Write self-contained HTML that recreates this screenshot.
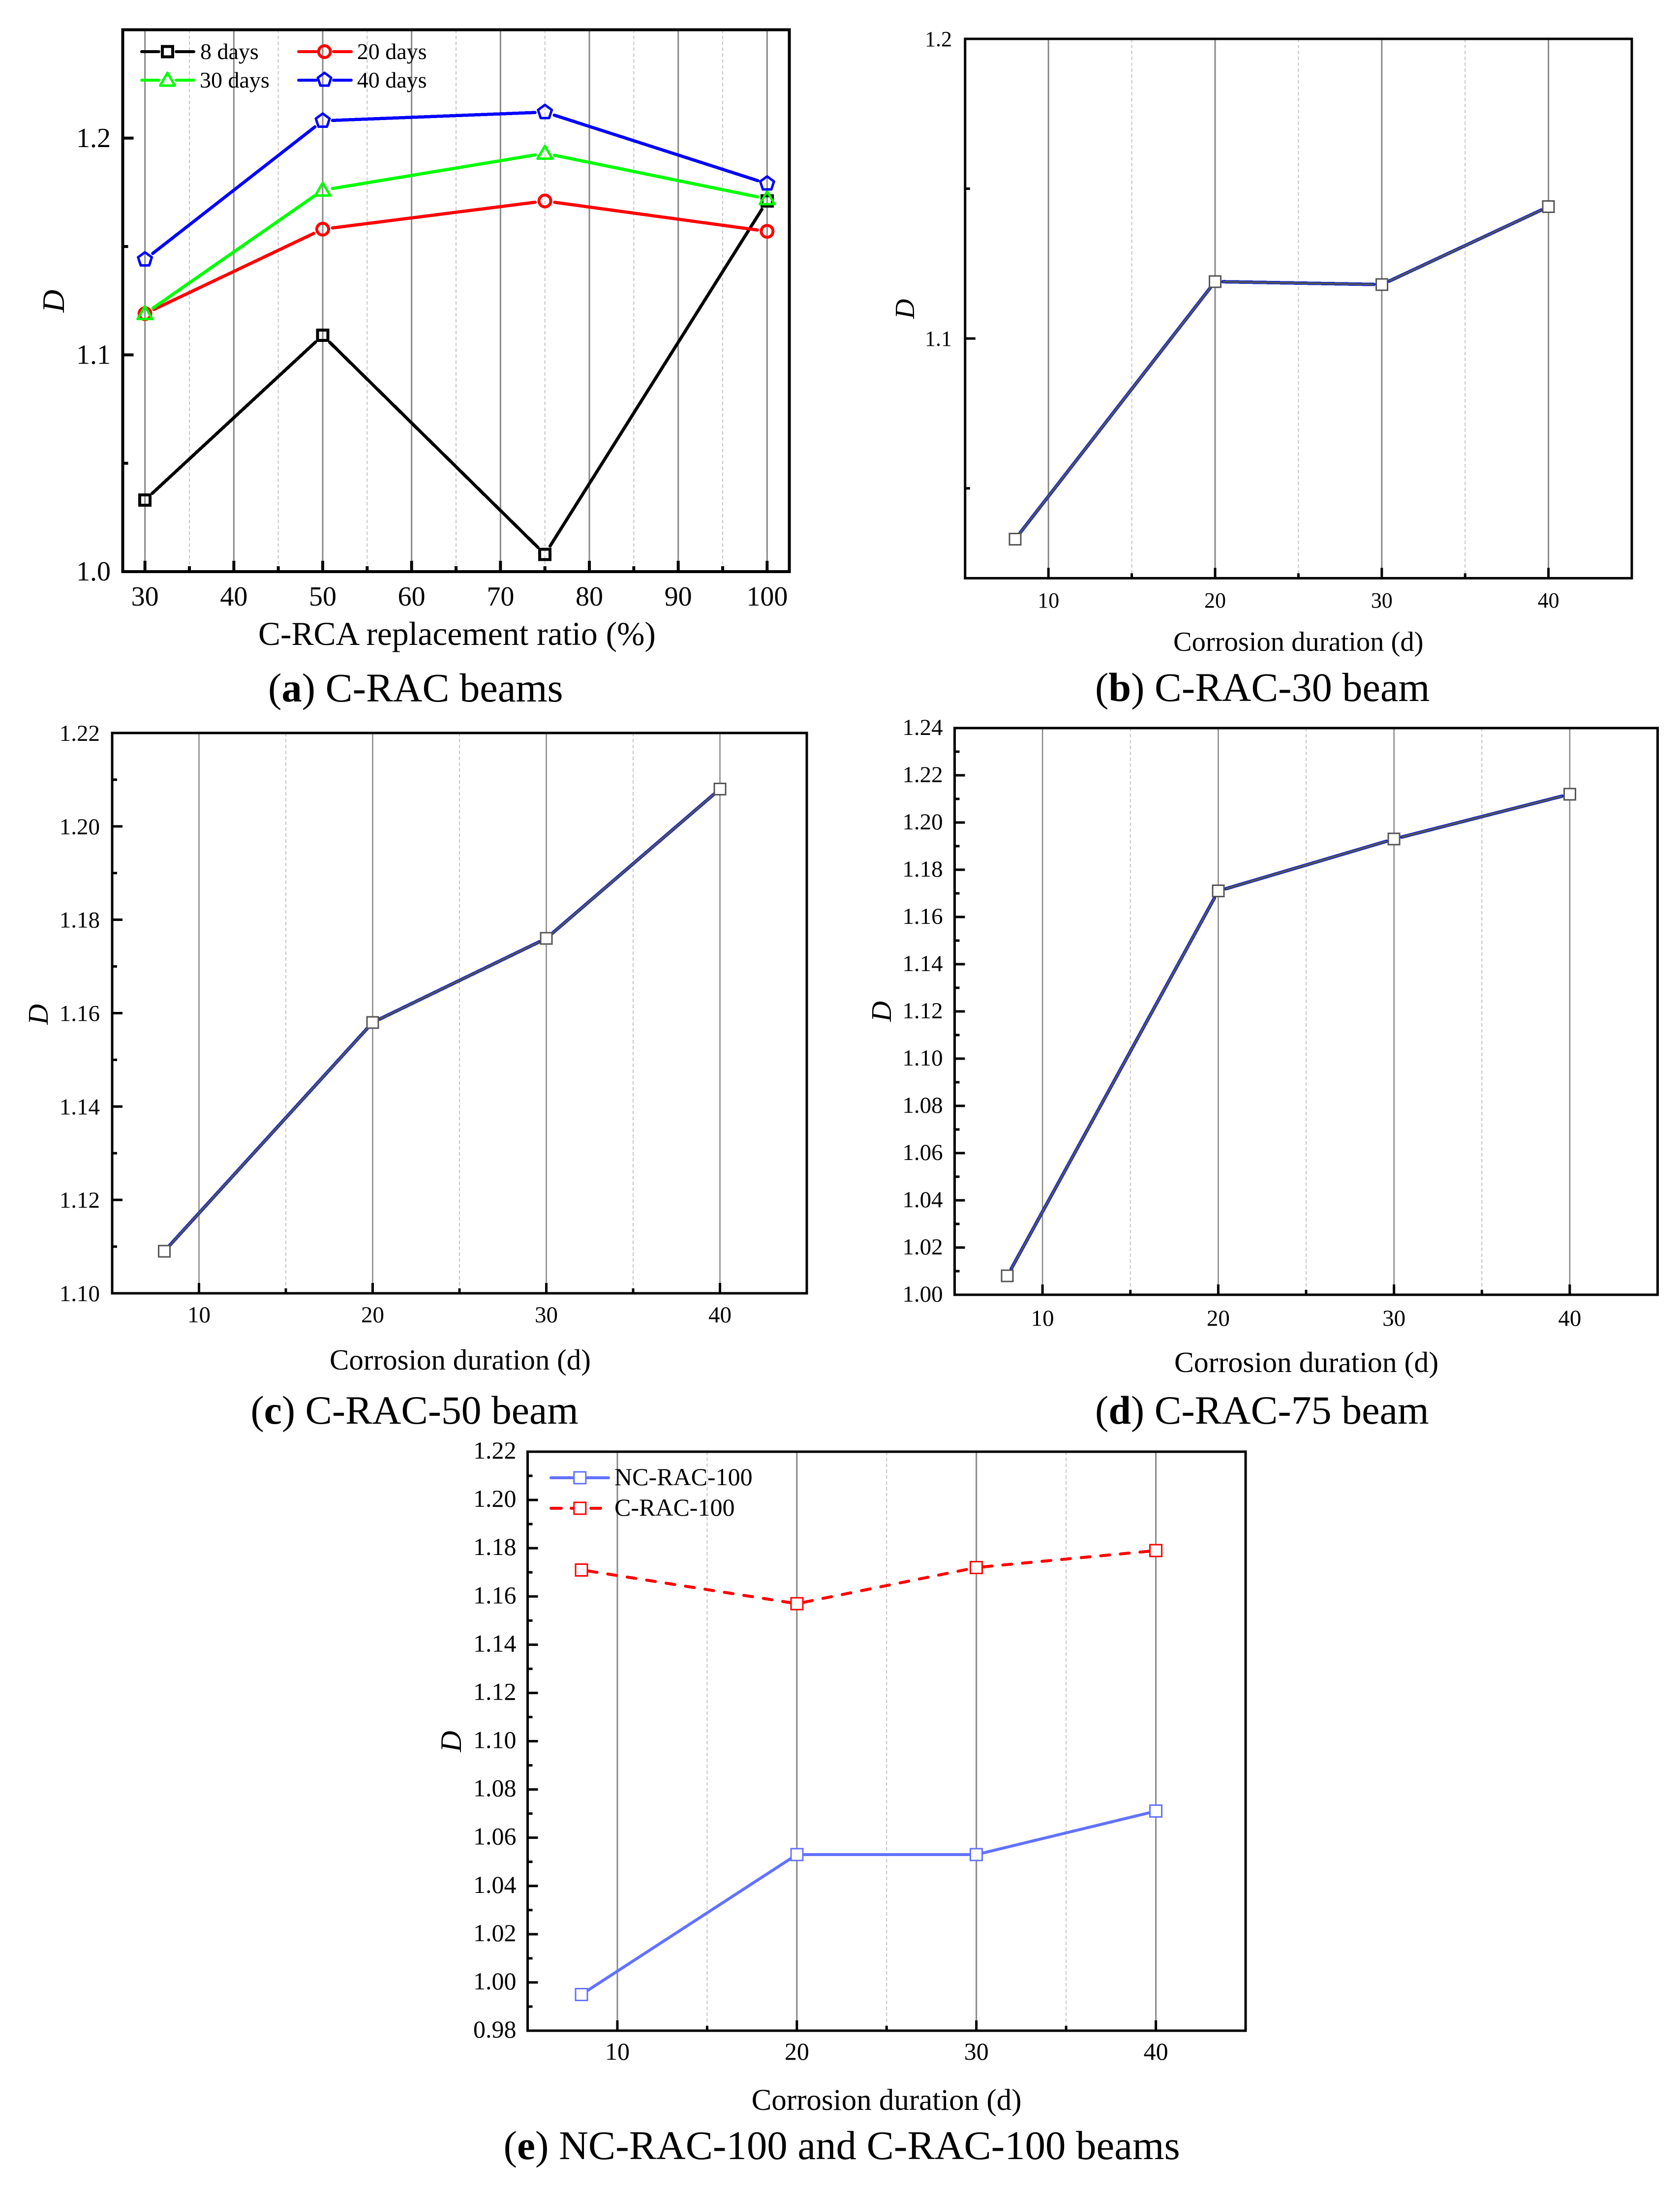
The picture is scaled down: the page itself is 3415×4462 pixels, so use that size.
<!DOCTYPE html>
<html lang="en">
<head>
<meta charset="utf-8">
<title>D versus C-RCA replacement ratio and corrosion duration</title>
<style>
  html, body { margin: 0; padding: 0; background: #fff; }
  svg { display: block; font-family: "Liberation Serif", serif; fill: #000; }
</style>
</head>
<body>
<svg id="figure" xmlns="http://www.w3.org/2000/svg" width="3415" height="4462" viewBox="0 0 3415 4462">
  <rect x="0" y="0" width="3415" height="4462" fill="#fff"/>

  <g id="panel-a"></g>
  <g id="panel-b"></g>
  <g id="panel-c"></g>
  <g id="panel-d"></g>
  <g id="panel-e"></g>

  <!-- axis titles -->
  <text x="525" y="1311" font-size="67.5">C-RCA replacement ratio (%)</text>
  <text transform="translate(130 612) rotate(-90)" text-anchor="middle" font-size="64" font-style="italic">D</text>
  <text x="2385" y="1323" font-size="56.5">Corrosion duration (d)</text>
  <text transform="translate(1858 628) rotate(-90)" text-anchor="middle" font-size="56" font-style="italic">D</text>
  <text x="670" y="2784" font-size="59">Corrosion duration (d)</text>
  <text transform="translate(97 2062) rotate(-90)" text-anchor="middle" font-size="58" font-style="italic">D</text>
  <text x="2387" y="2789" font-size="59.7">Corrosion duration (d)</text>
  <text transform="translate(1811 2056) rotate(-90)" text-anchor="middle" font-size="58" font-style="italic">D</text>
  <text x="1527.6" y="4289" font-size="61">Corrosion duration (d)</text>
  <text transform="translate(937 3540) rotate(-90)" text-anchor="middle" font-size="60" font-style="italic">D</text>

  <!-- captions -->
  <text x="545" y="1426" font-size="82.4">(<tspan font-weight="bold">a</tspan>) C-RAC beams</text>
  <text x="2226" y="1425" font-size="82.2">(<tspan font-weight="bold">b</tspan>) C-RAC-30 beam</text>
  <text x="509.5" y="2894" font-size="81.6">(<tspan font-weight="bold">c</tspan>) C-RAC-50 beam</text>
  <text x="2226" y="2894" font-size="82">(<tspan font-weight="bold">d</tspan>) C-RAC-75 beam</text>
  <text x="1023.5" y="4389" font-size="82.8">(<tspan font-weight="bold">e</tspan>) NC-RAC-100 and C-RAC-100 beams</text>

  <!-- legend panel a -->
  <g font-size="46">
    <g>
      <path d="M288 105H323M358 105H394" stroke="#000" stroke-width="6" stroke-linecap="round" fill="none"/>
      <rect x="330" y="94.5" width="21" height="21" stroke="#000" stroke-width="6" fill="none"/>
      <text x="407" y="120">8 days</text>
    </g>
    <g>
      <path d="M607 105H643M678 105H714" stroke="#f00" stroke-width="6" stroke-linecap="round" fill="none"/>
      <circle cx="659.6" cy="105" r="12" stroke="#f00" stroke-width="6" fill="none"/>
      <text x="725.7" y="120">20 days</text>
    </g>
    <g>
      <path d="M288 163H323M358 163H394" stroke="#0f0" stroke-width="6" stroke-linecap="round" fill="none"/>
      <polygon points="340.5,148 355.5,174 325.5,174" stroke="#0f0" stroke-width="5" stroke-linejoin="round" fill="none"/>
      <text x="406" y="178">30 days</text>
    </g>
    <g>
      <path d="M607 163H643M678 163H714" stroke="#00f" stroke-width="6" stroke-linecap="round" fill="none"/>
      <polygon points="659.6,148 673.1,158 668,174 651.2,174 646.1,158" stroke="#00f" stroke-width="5" stroke-linejoin="round" fill="none"/>
      <text x="725.7" y="178">40 days</text>
    </g>
  </g>

  <!-- legend panel e -->
  <g font-size="50">
    <g>
      <path d="M1120 3004H1237" stroke="#6272ff" stroke-width="6" stroke-linecap="round" fill="none"/>
      <rect x="1166.8" y="2992" width="24" height="24" stroke="#6272ff" stroke-width="3" fill="#fff"/>
      <text x="1249" y="3019">NC-RAC-100</text>
    </g>
    <g>
      <path d="M1120 3066H1141M1161 3066H1168M1201 3066H1221" stroke="#f00" stroke-width="6" stroke-linecap="round" fill="none"/>
      <rect x="1166.8" y="3054" width="24" height="24" stroke="#f00" stroke-width="3" fill="#fff"/>
      <text x="1249" y="3081">C-RAC-100</text>
    </g>
  </g>
</svg>

<script>
// ---------- data ----------
const replacementRatios = [30, 50, 75, 100];
const days8Values  = [1.033, 1.109, 1.008, 1.171];
const days20Values = [1.119, 1.158, 1.171, 1.157];
const days30Values = [1.119, 1.176, 1.193, 1.172];
const days40Values = [1.144, 1.208, 1.212, 1.179];

const corrosionDurations = [8, 20, 30, 40];
const cRac30Values  = [1.033, 1.119, 1.118, 1.144];
const cRac50Values  = [1.109, 1.158, 1.176, 1.208];
const cRac75Values  = [1.008, 1.171, 1.193, 1.212];
const ncRac100Values = [0.995, 1.053, 1.053, 1.071];
const cRac100Values  = [1.171, 1.157, 1.172, 1.179];

// ---------- tick labels ----------
const ratioMajorTicks = ['30', '40', '50', '60', '70', '80', '90', '100'];
const ratioMinorTicks = [35, 45, 55, 65, 75, 85, 95];
const durationMajorTicks = ['10', '20', '30', '40'];
const durationMinorTicks = [15, 25, 35];

const yMajorA = ['1.0', '1.1', '1.2'];
const yMinorA = [1.05, 1.15, 1.25];
const yMajorB = ['1.1', '1.2'];
const yMinorB = [1.05, 1.15];
const yMajorC = ['1.10', '1.12', '1.14', '1.16', '1.18', '1.20', '1.22'];
const yMinorC = [1.11, 1.13, 1.15, 1.17, 1.19, 1.21];
const yMajorD = ['1.00', '1.02', '1.04', '1.06', '1.08', '1.10', '1.12', '1.14', '1.16', '1.18', '1.20', '1.22', '1.24'];
const yMinorD = [1.01, 1.03, 1.05, 1.07, 1.09, 1.11, 1.13, 1.15, 1.17, 1.19, 1.21, 1.23];
const yMajorE = ['0.98', '1.00', '1.02', '1.04', '1.06', '1.08', '1.10', '1.12', '1.14', '1.16', '1.18', '1.20', '1.22'];
const yMinorE = [0.99, 1.01, 1.03, 1.05, 1.07, 1.09, 1.11, 1.13, 1.15, 1.17, 1.19, 1.21];

// ---------- helpers ----------
const SVGNS = 'http://www.w3.org/2000/svg';
function el(tag, attrs, parent) {
  const node = document.createElementNS(SVGNS, tag);
  for (const key in attrs) node.setAttribute(key, attrs[key]);
  parent.appendChild(node);
  return node;
}
function axisScale(dMin, dMax, pMin, pMax) {
  return function (v) { return pMin + (v - dMin) * (pMax - pMin) / (dMax - dMin); };
}

// Builds frame, grid, ticks and tick labels; returns the two axis functions.
function drawAxes(cfg) {
  const g = document.getElementById(cfg.id);
  const sx = axisScale(cfg.xLim[0], cfg.xLim[1], cfg.left, cfg.right);
  const sy = axisScale(cfg.yLim[0], cfg.yLim[1], cfg.bottom, cfg.top);

  cfg.xMajor.forEach(function (label) {
    const x = sx(Number(label));
    const grid = el('line', { x1: x, x2: x, y1: cfg.top, y2: cfg.bottom, stroke: '#888', 'stroke-width': cfg.gridW }, g);
    
    
    const tick = el('line', { x1: x, x2: x, y1: cfg.bottom, y2: cfg.bottom - cfg.majorLen, stroke: '#000', 'stroke-width': cfg.tickW }, g);
    
    
    const text = el('text', { x: x, y: cfg.xLabelY, 'text-anchor': 'middle', 'font-size': cfg.fontSize }, g);
    text.textContent = label;
    
    
  });

  cfg.xMinor.forEach(function (value) {
    const x = sx(value);
    const grid = el('line', { x1: x, x2: x, y1: cfg.top, y2: cfg.bottom, stroke: '#c4c4c4', 'stroke-width': 2, 'stroke-dasharray': '7 5' }, g);
    
    
    const tick = el('line', { x1: x, x2: x, y1: cfg.bottom, y2: cfg.bottom - cfg.minorLen, stroke: '#000', 'stroke-width': cfg.tickW }, g);
    
    
  });

  cfg.yMajor.forEach(function (label) {
    const y = sy(Number(label));
    const tick = el('line', { x1: cfg.left, x2: cfg.left + cfg.majorLen, y1: y, y2: y, stroke: '#000', 'stroke-width': cfg.tickW }, g);
    
    
    const text = el('text', { x: cfg.yLabelX, y: y + cfg.yLabelDy, 'text-anchor': 'end', 'font-size': cfg.fontSize }, g);
    text.textContent = label;
    
    
  });

  cfg.yMinor.forEach(function (value) {
    const y = sy(value);
    const tick = el('line', { x1: cfg.left, x2: cfg.left + cfg.minorLen, y1: y, y2: y, stroke: '#000', 'stroke-width': cfg.tickW }, g);
    
    
  });

  const frame = el('rect', { x: cfg.left, y: cfg.top, width: cfg.right - cfg.left, height: cfg.bottom - cfg.top, fill: 'none', stroke: '#000', 'stroke-width': cfg.frameW }, g);
  
  

  return { g: g, sx: sx, sy: sy };
}

// Line segments stop short of each marker, the way the plotting tool drew them.
function segmentPath(xs, ys, sx, sy, gap) {
  let d = '';
  for (let i = 0; i < xs.length - 1; i++) {
    const ax = sx(xs[i]), ay = sy(ys[i]), bx = sx(xs[i + 1]), by = sy(ys[i + 1]);
    const len = Math.hypot(bx - ax, by - ay);
    const ux = (bx - ax) / len, uy = (by - ay) / len;
    d += 'M' + (ax + ux * gap) + ' ' + (ay + uy * gap) + 'L' + (bx - ux * gap) + ' ' + (by - uy * gap);
  }
  return d;
}

function polygonPoints(cx, cy, offsets) {
  return offsets.map(function (p) { return (cx + p[0]) + ',' + (cy + p[1]); }).join(' ');
}

function drawMarker(shape, x, y, st, parent) {
  if (shape === 'square') {
    return el('rect', { x: x - st.size / 2, y: y - st.size / 2, width: st.size, height: st.size, fill: st.fill, stroke: st.color, 'stroke-width': st.markW }, parent);
  }
  if (shape === 'circle') {
    return el('circle', { cx: x, cy: y, r: 12, fill: st.fill, stroke: st.color, 'stroke-width': st.markW }, parent);
  }
  if (shape === 'triangle') {
    return el('polygon', { points: polygonPoints(x, y, [[0, -15], [15, 11], [-15, 11]]), fill: st.fill, stroke: st.color, 'stroke-width': 5, 'stroke-linejoin': 'round' }, parent);
  }
  return el('polygon', { points: polygonPoints(x, y, [[0, -14.7], [14, -4.5], [8.6, 11.9], [-8.6, 11.9], [-14, -4.5]]), fill: st.fill, stroke: st.color, 'stroke-width': 5, 'stroke-linejoin': 'round' }, parent);
}

function drawSeries(axes, name, xs, ys, shape, st) {
  const group = el('g', { 'shape-rendering': 'crispEdges' }, axes.g);
  
  
  const d = segmentPath(xs, ys, axes.sx, axes.sy, st.gap);
  const lineAttrs = { d: d, fill: 'none', stroke: st.color, 'stroke-width': st.lineW, 'stroke-linecap': 'round' };
  if (st.lineColor) lineAttrs.stroke = st.lineColor;
  if (st.dash) { lineAttrs['stroke-dasharray'] = st.dash; }
  const line = el('path', lineAttrs, group);
  
  
  if (st.core) {
    const core = el('path', { d: d, fill: 'none', stroke: st.core, 'stroke-width': 3.5 }, group);
    
    
  }
  xs.forEach(function (xv, i) {
    const m = drawMarker(shape, axes.sx(xv), axes.sy(ys[i]), st, group);
    
    
  });
}

// ---------- panel a ----------
const axesA = drawAxes({ id: 'panel-a', left: 249.5, right: 1604.5, top: 60.5, bottom: 1162,
  xLim: [27.5, 102.5], yLim: [1.0, 1.25],
  xMajor: ratioMajorTicks, xMinor: ratioMinorTicks, yMajor: yMajorA, yMinor: yMinorA,
  frameW: 6, tickW: 6, gridW: 3, majorLen: 22, minorLen: 11, fontSize: 56,
  xLabelY: 1231, yLabelX: 225, yLabelDy: 18 });
function styleA(color) { return { color: color, fill: 'none', lineW: 6.5, markW: 6, size: 21, gap: 20 }; }
drawSeries(axesA, '8-days', replacementRatios, days8Values, 'square', styleA('#000'));
drawSeries(axesA, '20-days', replacementRatios, days20Values, 'circle', styleA('#f00'));
drawSeries(axesA, '30-days', replacementRatios, days30Values, 'triangle', styleA('#0f0'));
drawSeries(axesA, '40-days', replacementRatios, days40Values, 'pentagon', styleA('#00f'));

// ---------- panels b, c, d ----------
const styleDuo = { color: '#555', lineColor: '#1428c8', core: '#555', fill: '#fff', lineW: 7, markW: 3, size: 23, gap: 16 };

const axesB = drawAxes({ id: 'panel-b', left: 1961.8, right: 3317, top: 79, bottom: 1175.4,
  xLim: [5, 45], yLim: [1.02, 1.2],
  xMajor: durationMajorTicks, xMinor: durationMinorTicks, yMajor: yMajorB, yMinor: yMinorB,
  frameW: 5, tickW: 5, gridW: 3, majorLen: 21, minorLen: 10, fontSize: 44,
  xLabelY: 1235, yLabelX: 1935, yLabelDy: 15 });
drawSeries(axesB, 'c-rac-30', corrosionDurations, cRac30Values, 'square', styleDuo);

const axesC = drawAxes({ id: 'panel-c', left: 228, right: 1640, top: 1490, bottom: 2629,
  xLim: [5, 45], yLim: [1.10, 1.22],
  xMajor: durationMajorTicks, xMinor: durationMinorTicks, yMajor: yMajorC, yMinor: yMinorC,
  frameW: 5, tickW: 5, gridW: 2.5, majorLen: 21, minorLen: 10, fontSize: 47,
  xLabelY: 2688, yLabelX: 203, yLabelDy: 16 });
drawSeries(axesC, 'c-rac-50', corrosionDurations, cRac50Values, 'square', styleDuo);

const axesD = drawAxes({ id: 'panel-d', left: 1940.5, right: 3369.5, top: 1480, bottom: 2632,
  xLim: [5, 45], yLim: [1.0, 1.24],
  xMajor: durationMajorTicks, xMinor: durationMinorTicks, yMajor: yMajorD, yMinor: yMinorD,
  frameW: 5, tickW: 5, gridW: 2.5, majorLen: 21, minorLen: 10, fontSize: 47,
  xLabelY: 2695, yLabelX: 1916.6, yLabelDy: 14 });
drawSeries(axesD, 'c-rac-75', corrosionDurations, cRac75Values, 'square', styleDuo);

// ---------- panel e ----------
const axesE = drawAxes({ id: 'panel-e', left: 1072.5, right: 2532, top: 2951, bottom: 4128,
  xLim: [5, 45], yLim: [0.98, 1.22],
  xMajor: durationMajorTicks, xMinor: durationMinorTicks, yMajor: yMajorE, yMinor: yMinorE,
  frameW: 5, tickW: 5, gridW: 3, majorLen: 21, minorLen: 10, fontSize: 50,
  xLabelY: 4187, yLabelX: 1049.5, yLabelDy: 14 });
drawSeries(axesE, 'nc-rac-100', corrosionDurations, ncRac100Values, 'square',
  { color: '#6272ff', fill: '#fff', lineW: 6, markW: 3, size: 24, gap: 13 });
drawSeries(axesE, 'c-rac-100', corrosionDurations, cRac100Values, 'square',
  { color: '#f00', fill: '#fff', lineW: 6, markW: 3, size: 24, gap: 14, dash: '18 22' });
</script>
</body>
</html>
